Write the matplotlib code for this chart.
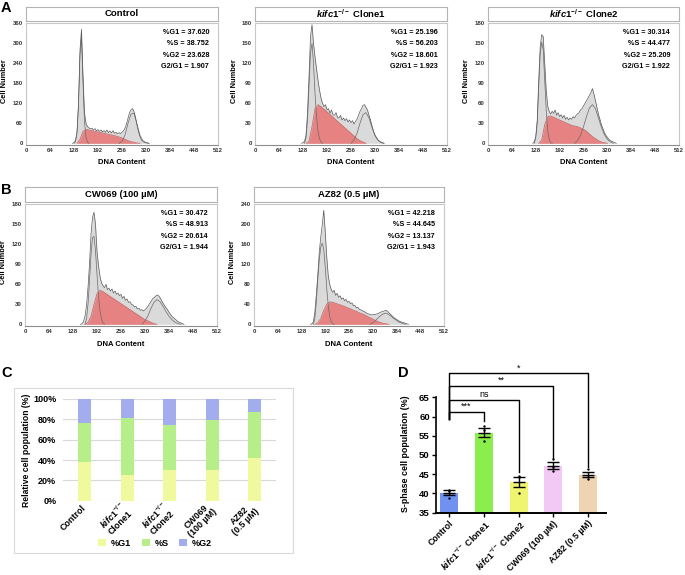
import numpy as np
import matplotlib
matplotlib.use('Agg')
import matplotlib.pyplot as plt
from matplotlib.patches import Rectangle, Patch

plt.rcParams['font.family'] = ['Liberation Sans', 'DejaVu Sans']
plt.rcParams['font.weight'] = 'bold'
plt.rcParams['mathtext.fontset'] = 'custom'
plt.rcParams['mathtext.rm'] = 'Liberation Sans:bold'
plt.rcParams['mathtext.it'] = 'Liberation Sans:italic:bold'
plt.rcParams['mathtext.bf'] = 'Liberation Sans:bold'

W, H = 685, 575

# ---- flow histograms: cell number per DNA channel (raw every 4, S/G2 fits every 8, G1 fit every 4) ----
ctrl_raw0 = 124
ctrl_raw = [0, 2, 8, 35, 120, 280, 342, 200, 90, 60, 50, 46, 44, 45, 40, 44, 38, 41, 36, 40, 34, 38, 33, 40, 32, 37,
            31, 38, 30, 33, 28, 32, 29, 33, 38, 45, 58, 75, 92, 100, 104, 95, 78, 55, 35, 20, 10, 5, 3, 2, 1, 0]
ctrl_g10 = 128
ctrl_g1 = [0, 5, 30, 110, 265, 320, 185, 65, 18, 4, 0]
ctrl_s0 = 136
ctrl_s = [0, 12, 36, 42, 40, 38, 36, 34, 32, 30, 28, 26, 24, 22, 19, 16, 12, 8, 5, 3, 1, 0]
ctrl_g20 = 248
ctrl_g2 = [0, 6, 25, 60, 88, 90, 58, 24, 8, 2, 0]

c1_raw0 = 124
c1_raw = [0, 1, 3, 12, 45, 100, 160, 178, 150, 130, 112, 95, 80, 68, 60, 55, 58, 50, 52, 45, 50, 43, 42, 46, 39, 38,
          42, 35, 38, 34, 37, 32, 35, 31, 34, 29, 33, 36, 42, 48, 52, 57, 58, 54, 50, 42, 35, 26, 18, 12, 8, 5, 3, 2, 1, 0]
c1_g10 = 132
c1_g1 = [0, 8, 35, 85, 135, 150, 120, 75, 40, 18, 7, 2, 0]
c1_s0 = 136
c1_s = [0, 3, 25, 52, 58, 55, 51, 47, 43, 39, 35, 31, 27, 23, 19, 15, 11, 7, 4, 2, 0]
c1_g20 = 256
c1_g2 = [0, 5, 15, 30, 43, 46, 38, 24, 12, 5, 1, 0]

c2_raw0 = 120
c2_raw = [0, 2, 10, 35, 95, 145, 163, 160, 120, 80, 56, 48, 44, 48, 45, 50, 42, 46, 40, 43, 38, 42, 36, 39, 35, 38,
          36, 40, 38, 42, 44, 46, 50, 52, 56, 60, 64, 68, 72, 76, 82, 74, 64, 54, 44, 36, 28, 22, 16, 12, 9, 6, 4, 3,
          2, 1, 0]
c2_g10 = 124
c2_g1 = [0, 8, 30, 85, 135, 152, 140, 95, 50, 20, 6, 1, 0]
c2_s0 = 136
c2_s = [0, 5, 28, 40, 41, 39, 37, 35, 33, 31, 29, 27, 26, 25, 23, 21, 18, 14, 10, 7, 4, 2, 1, 0]
c2_g20 = 232
c2_g2 = [0, 4, 12, 25, 40, 53, 58, 52, 38, 24, 13, 6, 2, 0]

cw_raw0 = 148
cw_raw = [0, 1, 4, 12, 28, 55, 90, 135, 160, 168, 150, 110, 88, 72, 62, 58, 55, 60, 52, 54, 50, 53, 47, 50, 45, 47,
          43, 45, 39, 42, 36, 38, 33, 34, 30, 29, 26, 27, 23, 24, 21, 22, 20, 22, 24, 27, 31, 34, 38, 40, 42, 44, 43,
          40, 36, 32, 28, 25, 22, 18, 15, 12, 10, 8, 6, 4, 3, 2, 1, 0]
cw_g10 = 160
cw_g1 = [0, 8, 30, 65, 105, 130, 132, 110, 75, 42, 20, 8, 2, 0]
cw_s0 = 160
cw_s = [0, 3, 12, 30, 46, 51, 49, 46, 43, 40, 37, 34, 31, 28, 25, 22, 19, 16, 13, 10, 7, 5, 3, 1, 0]
cw_g20 = 312
cw_g2 = [0, 5, 13, 24, 33, 37, 34, 27, 19, 12, 7, 3, 1, 0]

az_raw0 = 152
az_raw = [0, 1, 5, 25, 60, 100, 145, 175, 200, 228, 185, 135, 98, 80, 70, 64, 68, 58, 62, 54, 57, 50, 53, 47, 50, 44,
          46, 41, 43, 37, 38, 33, 34, 30, 29, 27, 26, 24, 22, 21, 20, 19, 19, 20, 20, 21, 22, 24, 25, 26, 27, 28, 26,
          23, 20, 17, 14, 12, 10, 8, 6, 5, 4, 3, 2, 1, 0]
az_g10 = 160
az_g1 = [0, 12, 45, 90, 130, 155, 162, 150, 115, 72, 38, 16, 5, 1, 0]
az_s0 = 164
az_s = [0, 3, 12, 28, 40, 45, 44, 42, 40, 38, 36, 33, 31, 28, 26, 23, 21, 18, 15, 12, 9, 6, 4, 2, 1, 0]
az_g20 = 312
az_g2 = [0, 3, 8, 14, 19, 22, 21, 17, 12, 8, 4, 2, 0]

hist_titles = ['Control', r'$\mathit{kifc1}^{\mathrm{-/-}}$ Clone1', r'$\mathit{kifc1}^{\mathrm{-/-}}$ Clone2',
               'CW069 (100 µM)', 'AZ82 (0.5 µM)']
hist_ymax = [360, 180, 180, 180, 240]
hist_ystep = [60, 30, 30, 30, 40]

# ---- cycle phase percentages ----
pct_g1 = [37.620, 25.196, 30.314, 30.472, 42.218]
pct_s = [38.752, 56.203, 44.477, 48.913, 44.645]
pct_g2 = [23.628, 18.601, 25.209, 20.614, 13.137]
ratio_g2g1 = [1.907, 1.923, 1.922, 1.944, 1.943]

c_labels = ['Control', '$\\mathit{kifc1}^{\\mathrm{-/-}}$\nClone1', '$\\mathit{kifc1}^{\\mathrm{-/-}}$\nClone2',
            'CW069\n(100 µM)', 'AZ82\n(0.5 µM)']

# ---- S-phase replicates ----
d_labels = ['Control', r'$\mathit{kifc1}^{\mathrm{-/-}}$ Clone1', r'$\mathit{kifc1}^{\mathrm{-/-}}$ Clone2',
            'CW069 (100 µM)', 'AZ82 (0.5 µM)']
s_mean = [40.2, 55.8, 43.1, 47.2, 44.9]
s_sem = [0.7, 1.2, 1.3, 0.9, 0.7]
s_reps = [[41.0, 40.6, 38.9], [57.5, 56.5, 53.7], [44.5, 44.3, 40.2], [48.9, 47.0, 45.9], [46.3, 44.4, 43.8]]
sig_target = [1, 2, 3, 4]
sig_text = ['***', 'ns', '**', '*']
sig_level = [61.3, 64.3, 67.9, 71.2]
sig_end = [58.9, 45.7, 49.1, 47.0]
sig_start = 59.3

fig = plt.figure(figsize=(6.85, 5.75), dpi=100)


def px_axes(left, right, top, bottom):
    return fig.add_axes([left / W, 1 - bottom / H, (right - left) / W, (bottom - top) / H])


def ftext(x, y, s, **kw):
    fig.text(x / W, 1 - y / H, s, **kw)


hist_data = [
    (ctrl_raw0, ctrl_raw, ctrl_g10, ctrl_g1, ctrl_s0, ctrl_s, ctrl_g20, ctrl_g2),
    (c1_raw0, c1_raw, c1_g10, c1_g1, c1_s0, c1_s, c1_g20, c1_g2),
    (c2_raw0, c2_raw, c2_g10, c2_g1, c2_s0, c2_s, c2_g20, c2_g2),
    (cw_raw0, cw_raw, cw_g10, cw_g1, cw_s0, cw_s, cw_g20, cw_g2),
    (az_raw0, az_raw, az_g10, az_g1, az_s0, az_s, az_g20, az_g2),
]
hist_boxes = [(26, 218, 23.3, 145), (255, 447, 23.3, 145), (488, 679, 23.3, 145),
              (25, 217, 204.3, 326), (254, 444, 204.3, 326)]
title_rows = [(6.5, 21), (6.5, 21), (6.5, 21), (186.7, 201.7), (186.7, 201.7)]

for i in range(5):
    left, right, top, bottom = hist_boxes[i]
    r0, raw, g10, g1, s0, s, g20, g2 = hist_data[i]
    ax = px_axes(left, right, top, bottom)
    xr = np.arange(len(raw)) * 4 + r0
    xg1 = np.arange(len(g1)) * 4 + g10
    xs = np.arange(len(s)) * 8 + s0
    xg2 = np.arange(len(g2)) * 8 + g20
    ax.fill_between(xr, raw, color='#DADADA', lw=0)
    ax.fill_between(xs, s, color='#E78282', lw=0)
    ax.plot(xs, s, color='#C46060', lw=0.5)
    ax.plot(xg1, g1, color='#6A6A6A', lw=0.5)
    ax.plot(xg2, g2, color='#6A6A6A', lw=0.5)
    ax.plot(xr, raw, color='#5A5A5A', lw=0.5)
    ax.set_xlim(0, 512)
    ax.set_ylim(-0.014 * hist_ymax[i], hist_ymax[i])
    ax.set_xticks(np.arange(0, 513, 64))
    ax.set_yticks(np.arange(0, hist_ymax[i] + 1, hist_ystep[i]))
    ax.tick_params(length=0, labelsize=4.3, labelcolor='#333333', pad=2.4)
    for sp in ax.spines.values():
        sp.set_color('#C8C8C8')
        sp.set_linewidth(0.8)
    ax.spines['bottom'].set_color('#8C8C8C')
    stats = ['%%G1 = %.3f' % pct_g1[i], '%%S = %.3f' % pct_s[i], '%%G2 = %.3f' % pct_g2[i],
             'G2/G1 = %.3f' % ratio_g2g1[i]]
    for k, line in enumerate(stats):
        ftext(right - 9, top + 9 + k * 11.5, line, ha='right', va='center', fontsize=5.2)

    t_top, t_bot = title_rows[i]
    tax = px_axes(left, right, t_top, t_bot)
    tax.set_xticks([])
    tax.set_yticks([])
    for sp in tax.spines.values():
        sp.set_color('#B4B4B4')
        sp.set_linewidth(0.8)
    tax.text(0.5, 0.5, hist_titles[i], ha='center', va='center', fontsize=6.8, transform=tax.transAxes)

    ftext((left + right) / 2, bottom + 18, 'DNA Content', ha='center', va='center', fontsize=5.5)
    ftext(left - 21, (top + bottom) / 2 - 3, 'Cell Number', ha='center', va='center', rotation=90, fontsize=5.3)

# ---- panel C ----
fig.add_artist(Rectangle((14 / W, 1 - 553 / H), (293 - 14) / W, (553 - 388) / H, transform=fig.transFigure,
                         fill=False, ec='#D9D9D9', lw=0.8))
axc = px_axes(63.3, 276, 399, 500.7)
xc = np.arange(5)
col_g1, col_s, col_g2 = '#F1F99E', '#B6EF8A', '#A3ADEE'
axc.bar(xc, pct_g1, 0.31, color=col_g1, zorder=2)
axc.bar(xc, pct_s, 0.31, bottom=pct_g1, color=col_s, zorder=2)
axc.bar(xc, pct_g2, 0.31, bottom=np.add(pct_g1, pct_s), color=col_g2, zorder=2)
axc.set_xlim(-0.5, 4.5)
axc.set_ylim(0, 100)
axc.set_yticks(np.arange(0, 101, 20))
axc.set_yticklabels(['%d%%' % v for v in range(0, 101, 20)])
axc.yaxis.grid(True, color='#D9D9D9', lw=0.8, zorder=0)
axc.set_axisbelow(True)
for sp in axc.spines.values():
    sp.set_visible(False)
axc.set_xticks(xc)
axc.set_xticklabels(c_labels, rotation=45, ha='right', va='center', rotation_mode='anchor',
                    multialignment='center', linespacing=1.0)
axc.tick_params(axis='y', length=0, labelsize=6.5, pad=5)
axc.tick_params(axis='x', length=0, labelsize=6.4, pad=4.5)
ftext(26.7, 450, 'Relative cell population (%)', ha='center', va='center', rotation=90, fontsize=6.2)
fig.legend(handles=[Patch(fc=col_g1, label='%G1'), Patch(fc=col_s, label='%S'), Patch(fc=col_g2, label='%G2')],
           loc='center', bbox_to_anchor=(155 / W, 1 - 543 / H), ncol=3, frameon=False, fontsize=6.5,
           handlelength=0.9, handleheight=0.9, columnspacing=1.2, handletextpad=0.5)

# ---- panel D ----
axd = px_axes(436, 606, 397.3, 512.7)
xd = np.arange(5)
d_colors = ['#7191F0', '#8AEE4C', '#F0F570', '#F2C9F4', '#EED4B1']
axd.bar(xd, np.subtract(s_mean, 35), 0.52, bottom=35, color=d_colors, zorder=1)
for j in range(5):
    axd.scatter([xd[j]] * len(s_reps[j]), s_reps[j], s=3, color='black', zorder=3, lw=0)
axd.errorbar(xd, s_mean, yerr=s_sem, fmt='_', color='black', ms=8.6, mew=1, elinewidth=1, capsize=4.3,
             capthick=1, zorder=4)
for k in range(4):
    t = sig_target[k]
    axd.plot([0, 0, t, t], [sig_start, sig_level[k], sig_level[k], sig_end[k]], color='black', lw=1,
             clip_on=False)
    axd.text(t / 2, sig_level[k] + 0.3, sig_text[k], ha='center', va='bottom', fontsize=6.5,
             fontweight='normal')
axd.set_xlim(-0.37, 4.51)
axd.set_ylim(35, 65)
axd.set_yticks(np.arange(35, 66, 5))
axd.set_xticks(xd)
axd.set_xticklabels(d_labels, rotation=45, ha='right', rotation_mode='anchor')
axd.tick_params(axis='y', labelsize=6.8, width=1, length=3, pad=1.5)
axd.tick_params(axis='x', labelsize=6.3, width=1, length=3, pad=1.5)
axd.spines['top'].set_visible(False)
axd.spines['right'].set_visible(False)
axd.spines['left'].set_linewidth(1.2)
axd.spines['bottom'].set_linewidth(1.4)
ftext(405, 454, 'S-phase cell population (%)', ha='center', va='center', rotation=90, fontsize=6.4)

# ---- panel letters ----
for letter, (lx, ly) in zip('ABCD', [(6, 7.5), (6, 189.5), (7, 373), (403, 373)]):
    ftext(lx, ly, letter, ha='center', va='center', fontsize=10.5)

fig.savefig('out.png', dpi=100)
